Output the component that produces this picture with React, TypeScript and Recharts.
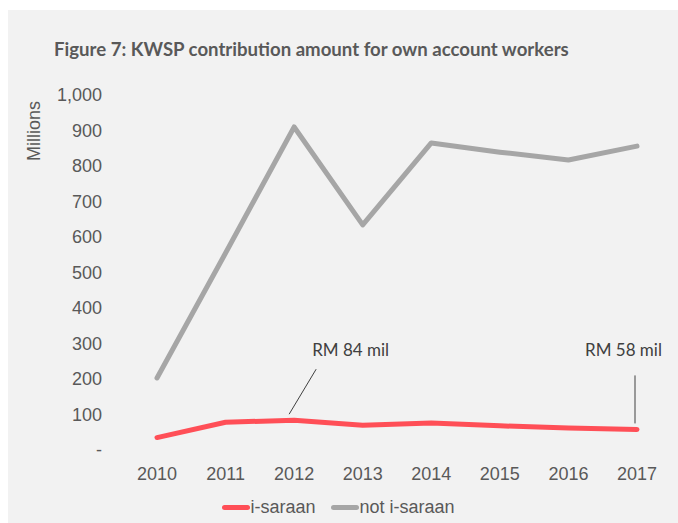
import { LineChart, Line, XAxis, YAxis, Legend, ReferenceDot } from 'recharts'

const years = ['2010', '2011', '2012', '2013', '2014', '2015', '2016', '2017']
const iSaraan = [35, 78, 84, 70, 76, 68, 62, 58]
const notISaraan = [203, 555, 910, 634, 865, 839, 817, 856]
const yTicks = [0, 100, 200, 300, 400, 500, 600, 700, 800, 900, 1000]

const data = years.map((year, i) => ({
  year,
  iSaraan: iSaraan[i],
  notISaraan: notISaraan[i],
}))

const RED = '#ff4f57'
const GREY = '#a6a6a6'
const TEXT = '#595959'
const tickFont = { fontSize: 18, fill: TEXT, fontFamily: 'Liberation Sans, Arial, sans-serif' }

function fmtTick(v: number) {
  if (v === 0) return '-'
  return v.toLocaleString('en-US')
}

// callout with leader line, drawn relative to the data point
function callout(text: string, x1: number, y1: number, x2: number, y2: number, tx: number, ty: number) {
  return (props: any) => {
    const { cx, cy } = props
    return (
      <g>
        <line x1={cx + x1} y1={cy + y1} x2={cx + x2} y2={cy + y2} stroke="#404040" strokeWidth={1} />
        <text
          x={cx + tx}
          y={cy + ty}
          fontSize={17}
          fill="#404040"
          fontFamily="Lato, sans-serif"
          dominantBaseline="middle"
        >
          {text}
        </text>
      </g>
    )
  }
}

function LegendContent({ payload }: any) {
  return (
    <div style={{ display: 'flex', justifyContent: 'center', height: 22, lineHeight: '22px', paddingLeft: 56 }}>
      {(payload || []).map((p: any) => (
        <div key={p.value} style={{ display: 'flex', alignItems: 'center', marginRight: 16 }}>
          <span style={{ display: 'inline-block', width: 28, height: 5, borderRadius: 3, background: p.color }} />
          <span style={{ fontSize: 18, color: TEXT, fontFamily: 'Liberation Sans, Arial, sans-serif' }}>{p.value}</span>
        </div>
      ))}
    </div>
  )
}

export default function App() {
  return (
    <div style={{ position: 'absolute', left: 0, top: 0, width: 678, height: 523, background: '#ffffff' }}>
      <div style={{ position: 'absolute', left: 8, top: 10, width: 670, height: 513, background: '#f2f2f2' }} />
      <div
        style={{
          position: 'absolute',
          left: 54,
          top: 38,
          fontFamily: 'Lato, sans-serif',
          fontWeight: 700,
          fontSize: 18.6,
          color: TEXT,
          whiteSpace: 'nowrap',
        }}
      >
        Figure 7: KWSP contribution amount for own account workers
      </div>
      <div style={{ position: 'absolute', left: 0, top: 0 }}>
        <LineChart width={678} height={523} data={data} margin={{ top: 95, right: 41, left: 0, bottom: 5 }}>
          <XAxis
            dataKey="year"
            axisLine={false}
            tickLine={false}
            tickSize={0}
            tickMargin={17}
            height={46}
            tick={tickFont}
          />
          <YAxis
            width={157}
            domain={[0, 1000]}
            ticks={yTicks}
            tickFormatter={fmtTick}
            axisLine={false}
            tickLine={false}
            tickSize={0}
            tickMargin={55}
            tick={tickFont}
            label={{
              content: ({ viewBox }: any) => (
                <text
                  x={viewBox.x + 35}
                  y={viewBox.y + 36}
                  transform={`rotate(-90, ${viewBox.x + 35}, ${viewBox.y + 36})`}
                  textAnchor="middle"
                  dominantBaseline="middle"
                  fontSize={18}
                  fill={TEXT}
                  fontFamily="Liberation Sans, Arial, sans-serif"
                >
                  Millions
                </text>
              ),
            }}
          />
          <Legend verticalAlign="bottom" content={<LegendContent />} />
          <Line
            type="linear"
            dataKey="iSaraan"
            name="i-saraan"
            stroke={RED}
            strokeWidth={5}
            strokeLinecap="round"
            strokeLinejoin="round"
            dot={false}
            activeDot={false}
            isAnimationActive={false}
          />
          <Line
            type="linear"
            dataKey="notISaraan"
            name="not i-saraan"
            stroke={GREY}
            strokeWidth={5}
            strokeLinecap="round"
            strokeLinejoin="round"
            dot={false}
            activeDot={false}
            isAnimationActive={false}
          />
          <ReferenceDot
            x="2012"
            y={84}
            r={0}
            shape={callout('RM 84 mil', -5, -6, 22, -51, 18, -68)}
          />
          <ReferenceDot
            x="2017"
            y={58}
            r={0}
            shape={callout('RM 58 mil', -2, -6, -2, -54, -52, -78)}
          />
        </LineChart>
      </div>
    </div>
  )
}
